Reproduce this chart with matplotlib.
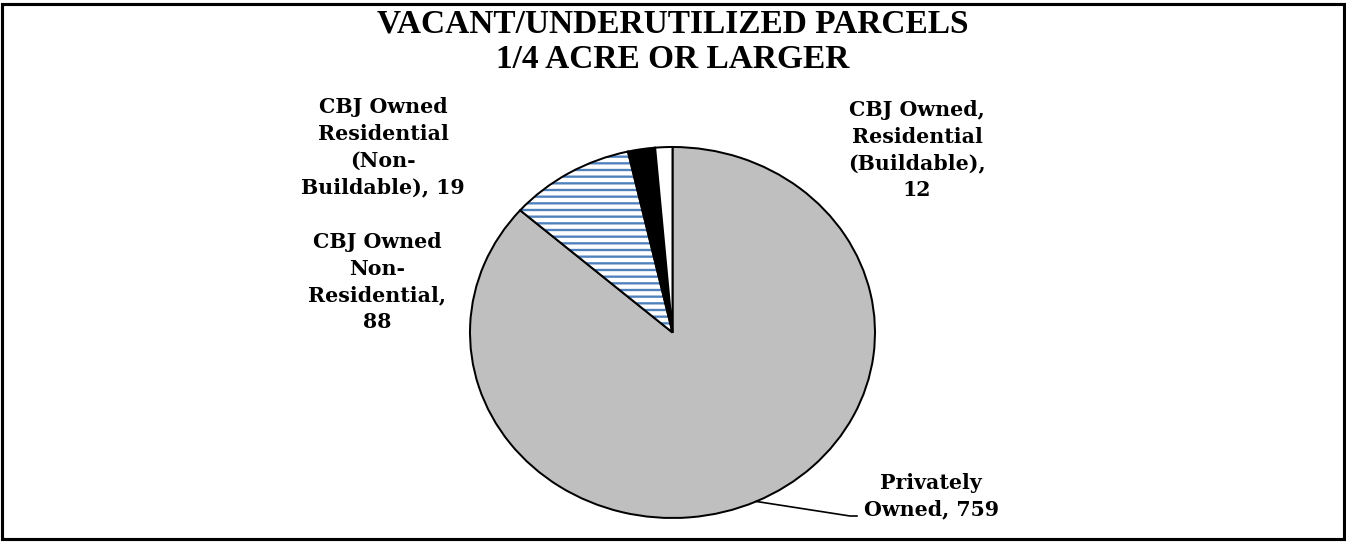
import matplotlib
matplotlib.use('Agg')
import matplotlib.pyplot as plt
from matplotlib.patches import Wedge, Rectangle
import numpy as np

# ---- data ----
title_lines = ["VACANT/UNDERUTILIZED PARCELS", "1/4 ACRE OR LARGER"]
categories = ["Privately Owned", "CBJ Owned Non-Residential",
              "CBJ Owned Residential (Non-Buildable)", "CBJ Owned, Residential (Buildable)"]
values = [759, 88, 19, 12]
label_templates = ["Privately\nOwned, {}", "CBJ Owned\nNon-\nResidential,\n{}",
                   "CBJ Owned\nResidential\n(Non-\nBuildable), {}", "CBJ Owned,\nResidential\n(Buildable),\n{}"]
colors = ["#BFBFBF", "white", "black", "white"]
hatches = [None, "--", None, None]
stripe_color = "#4F81BD"

# ---- layout (pixels) ----
W, H, DPI = 1346, 542, 80
cx, cy, rx, ry = 672.5, 332.5, 202.5, 185.5

def p2d(px, py):
    return ((px - cx) / rx, (cy - py) / ry)

plt.rcParams['hatch.linewidth'] = 2.1
fig = plt.figure(figsize=(W / DPI, H / DPI), dpi=DPI)
fig.patch.set_facecolor('white')
ax = fig.add_axes([0, 0, 1, 1])

wedges, _ = ax.pie(values, colors=colors, hatch=hatches, startangle=90, counterclock=False,
                   wedgeprops=dict(edgecolor='black', linewidth=1.8))
# striped wedge: blue hatch, black outline drawn on top
sw = wedges[1]
sw.set_edgecolor(stripe_color)
sw.set_linewidth(0)
ax.add_patch(Wedge(sw.center, sw.r, sw.theta1, sw.theta2, fill=False,
                   edgecolor='black', linewidth=1.8))

ax.set_aspect('auto')
ax.set_xlim(-cx / rx, (W - cx) / rx)
ax.set_ylim(-(H - cy) / ry, cy / ry)
ax.axis('off')

label_font = dict(family='DejaVu Serif', fontweight='bold', fontsize=18.5, color='black')
label_pos_px = [(931, 496), (377, 282), (383, 147), (917, 150)]
for tmpl, v, (px, py) in zip(label_templates, values, label_pos_px):
    x, y = p2d(px, py)
    ax.text(x, y, tmpl.format(v), ha='center', va='center', multialignment='center',
            linespacing=1.42, **label_font)

# leader line for the large slice
w0 = wedges[0]
mid = np.deg2rad((w0.theta1 + w0.theta2) / 2)
ex, ey = np.cos(mid) * w0.r, np.sin(mid) * w0.r
bx, by = p2d(850, 516)
tx, ty = p2d(857, 516)
ax.plot([ex, bx, tx], [ey, by, ty], color='black', linewidth=1.5)

# title
title_y_px = [24, 59]
for t, py in zip(title_lines, title_y_px):
    fig.text(0.5, 1 - py / H, t, ha='center', va='center', family='Liberation Serif',
             fontweight='bold', fontsize=30, color='#000000')

# border
fig.patches.append(Rectangle((1.8 / W, (H - 538.5) / H), (1344.3 - 1.8) / W, (538.5 - 4.3) / H,
                             transform=fig.transFigure, fill=False, edgecolor='black', linewidth=2.8))

fig.savefig('out.png', dpi=DPI, facecolor='white')
